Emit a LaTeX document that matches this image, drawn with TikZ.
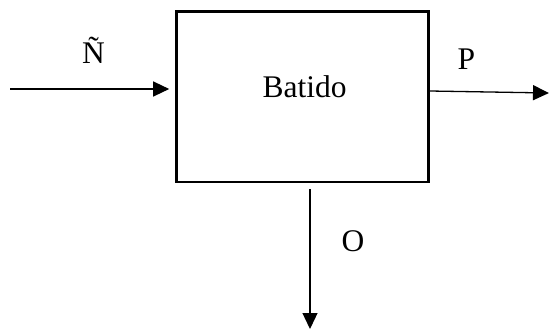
\documentclass[tikz,border=0pt]{standalone}
\usepackage{fontspec}
\setmainfont{Liberation Serif}
\usetikzlibrary{arrows.meta}
\begin{document}
\begin{tikzpicture}[x=1pt,y=1pt,
  every node/.style={font=\fontsize{31.5}{36}\selectfont, inner sep=0pt},
  procbox/.style={draw, line width=2.6pt, minimum width=252pt, minimum height=170.5pt},
  flow/.style={line width=1.3pt, -{Triangle[length=16pt,width=15pt]}}]
  \useasboundingbox (0,0) rectangle (549,-329);
  % process block
  \node[procbox] (box) at (302.5,-96.75) {};
  \node[anchor=base] (name) at (304.5,-98) {Batido};
  % stream ends
  \coordinate (nin) at (10,-89);
  \coordinate (pout) at (549,-93);
  \coordinate (oout) at (310,-329);
  % streams
  \draw[flow, shorten >=6pt] (nin) -- (nin -| box.west);
  \draw[flow] ([yshift=5.75pt]box.east) -- (pout);
  \draw[flow, shorten <=6pt] (oout |- box.south) -- (oout);
  % stream labels
  \node[anchor=base] (ntil) at (93.5,-64) {Ñ};
  \node[anchor=base] (plab) at (466.5,-70) {P};
  \node[anchor=base] (olab) at (353,-251) {O};
\end{tikzpicture}
\end{document}
